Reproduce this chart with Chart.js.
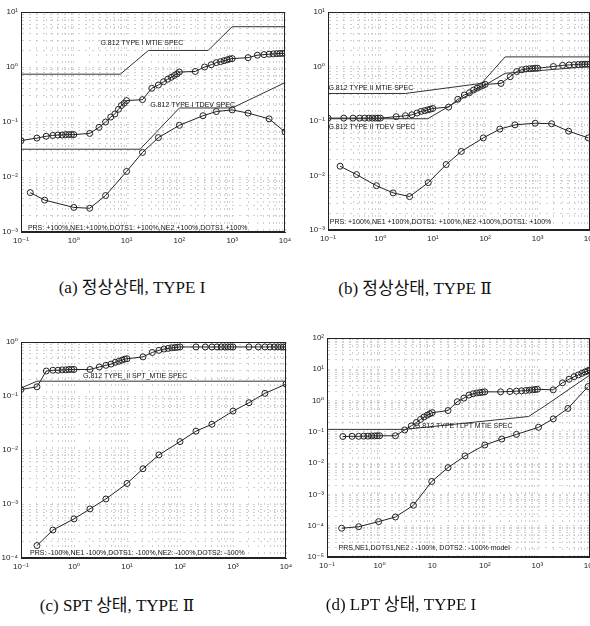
<!DOCTYPE html>
<html>
<head>
<meta charset="utf-8">
<script src="https://cdn.jsdelivr.net/npm/chart.js@4.4.1/dist/chart.umd.min.js"></script>
<style>
  html, body { margin: 0; padding: 0; background: #fff; overflow: hidden; width: 590px; height: 626px; }
  .panel { position: absolute; }
  .cap { position: absolute; font-family: "Liberation Serif", "Noto Sans CJK KR", serif; font-size: 17px; line-height: 20px; color: #111; white-space: nowrap; transform: translateX(-50%); }
  .rn { font-family: "DejaVu Serif", "DejaVu Sans", serif; }
</style>
</head>
<body>
<div class="panel" style="left:0px;top:0px;width:300px;height:250px"><canvas id="ca"></canvas></div>
<div class="panel" style="left:295px;top:0px;width:310px;height:248px"><canvas id="cb"></canvas></div>
<div class="panel" style="left:0px;top:330px;width:301px;height:246px"><canvas id="cc"></canvas></div>
<div class="panel" style="left:295px;top:326px;width:310px;height:249px"><canvas id="cd"></canvas></div>

<div class="cap" style="left:132px;top:278px">(a) 정상상태, TYPE I</div>
<div class="cap" style="left:415px;top:278px">(b) 정상상태, TYPE <span class="rn">Ⅱ</span></div>
<div class="cap" style="left:117px;top:595px">(c) SPT 상태, TYPE <span class="rn">Ⅱ</span></div>
<div class="cap" style="left:401px;top:595px">(d) LPT 상태, TYPE I</div>

<script>
// observation interval axis (s) and decade labels
const xDecades = [0.1, 1, 10, 100, 1000, 10000];
const xTickLabels = ['10⁻¹', '10⁰', '10¹', '10²', '10³', '10⁴'];
const xTickLabelsD = ['10⁻¹', '10⁰', '10', '10²', '10³', '10⁴'];
const yTickLabelsAB = ['10⁻³', '10⁻²', '10⁻¹', '10⁰', '10¹'];
const yTickLabelsC = ['10⁻⁴', '10⁻³', '10⁻²', '10⁻¹', '10⁰'];
const yTickLabelsD = ['10⁻⁵', '10⁻⁴', '10⁻³', '10⁻²', '10⁻¹', '10⁰', '10¹', '10²'];

// intervals used for the MTIE measurements (1..9 per decade)
const mtieX = [0.1, 0.2, 0.3, 0.4, 0.5, 0.6, 0.7, 0.8, 0.9,
  1, 2, 3, 4, 5, 6, 7, 8, 9,
  10, 20, 30, 40, 50, 60, 70, 80, 90,
  100, 200, 300, 400, 500, 600, 700, 800, 900,
  1000, 2000, 3000, 4000, 5000, 6000, 7000, 8000, 9000, 10000];

// (a) steady state, type I
const aMtieY = [0.046, 0.051, 0.055, 0.057, 0.058, 0.058, 0.059, 0.059, 0.059,
  0.059, 0.062, 0.08, 0.1, 0.123, 0.14, 0.17, 0.2, 0.22,
  0.245, 0.255, 0.41, 0.47, 0.54, 0.6, 0.65, 0.7, 0.75,
  0.81, 0.83, 1.0, 1.1, 1.2, 1.25, 1.3, 1.35, 1.4,
  1.42, 1.48, 1.64, 1.68, 1.71, 1.73, 1.75, 1.76, 1.77, 1.78];
const aTdevX = [0.15, 0.28, 1, 2, 4, 10, 20, 40, 100, 280, 500, 1000, 2000, 5000, 10000];
const aTdevY = [0.0052, 0.0038, 0.0028, 0.0027, 0.0046, 0.0126, 0.028, 0.052, 0.087, 0.13, 0.155, 0.166, 0.145, 0.114, 0.066];
const aMtieSpecX = [0.1, 7.6, 26, 350, 1000, 10000];
const aMtieSpecY = [0.74, 0.74, 2.0, 2.0, 5.4, 5.4];
const aTdevSpecX = [0.1, 18, 100, 1000, 10000];
const aTdevSpecY = [0.032, 0.032, 0.18, 0.18, 0.52];

// (b) steady state, type II
const bMtieY = [0.113, 0.113, 0.113, 0.113, 0.113, 0.113, 0.113, 0.113, 0.113,
  0.113, 0.12, 0.125, 0.13, 0.14, 0.15, 0.155, 0.16, 0.165,
  0.17, 0.18, 0.25, 0.3, 0.33, 0.37, 0.4, 0.43, 0.45,
  0.47, 0.49, 0.65, 0.81, 0.87, 0.9, 0.91, 0.92, 0.93,
  0.93, 1.0, 1.05, 1.07, 1.08, 1.09, 1.1, 1.1, 1.1, 1.1];
const bTdevX = [0.17, 0.35, 0.84, 1.75, 3.6, 8.2, 18, 35, 92, 190, 370, 900, 1850, 3900, 9300];
const bTdevY = [0.0148, 0.0104, 0.0065, 0.0048, 0.0041, 0.0074, 0.0159, 0.0277, 0.049, 0.071, 0.085, 0.091, 0.089, 0.065, 0.049];
const bMtieSpecX = [0.1, 3, 85, 240, 10000];
const bMtieSpecY = [0.32, 0.32, 0.49, 1.5, 1.5];
const bTdevSpecX = [0.1, 8, 240, 10000];
const bTdevSpecY = [0.11, 0.11, 0.75, 1.0];

// (c) SPT, type II
const cMtieY = [0.132, 0.148, 0.29, 0.3, 0.3, 0.305, 0.305, 0.31, 0.31,
  0.31, 0.31, 0.345, 0.37, 0.39, 0.42, 0.44, 0.46, 0.48,
  0.49, 0.53, 0.64, 0.7, 0.74, 0.76, 0.78, 0.79, 0.8,
  0.81, 0.81, 0.81, 0.81, 0.81, 0.81, 0.81, 0.81, 0.81,
  0.81, 0.81, 0.81, 0.81, 0.81, 0.81, 0.81, 0.81, 0.81, 0.81];
const cTdevX = [0.2, 0.4, 1, 2, 4, 10, 20, 40, 100, 200, 400, 1000, 2000, 4000, 10000];
const cTdevY = [0.00017, 0.00033, 0.00053, 0.00081, 0.00124, 0.0024, 0.0045, 0.0081, 0.0143, 0.0223, 0.030, 0.0525, 0.075, 0.112, 0.166];
const cSpecX = [0.1, 0.2, 10000];
const cSpecY = [0.14, 0.188, 0.188];

// (d) LPT, type I
const dMtieX = mtieX.slice(1);
const dMtieY = [0.071, 0.072, 0.072, 0.073, 0.073, 0.074, 0.074, 0.075,
  0.075, 0.075, 0.115, 0.155, 0.2, 0.25, 0.3, 0.34, 0.38,
  0.41, 0.48, 0.92, 1.2, 1.5, 1.65, 1.75, 1.8, 1.85,
  1.9, 1.9, 1.95, 2.0, 2.05, 2.1, 2.15, 2.2, 2.25,
  2.3, 2.2, 3.7, 4.8, 5.8, 6.6, 7.4, 8.2, 8.9, 9.5];
const dTdevX = [0.19, 0.4, 0.96, 2, 4.4, 9.8, 20, 42, 100, 210, 400, 1050, 2000, 3800, 9200];
const dTdevY = [0.000083, 0.000093, 0.000135, 0.00019, 0.00045, 0.0026, 0.0072, 0.017, 0.038, 0.059, 0.083, 0.14, 0.26, 0.56, 2.8];
const dSpecX = [0.1, 3, 160, 680, 1380, 10000];
const dSpecY = [0.12, 0.12, 0.24, 0.31, 0.67, 6.6];

const pts = (xs, ys) => xs.map((x, i) => ({ x: x, y: ys[i] }));

function spec(xs, ys) {
  return { data: pts(xs, ys), showLine: true, borderColor: '#333', borderWidth: 1, pointRadius: 0 };
}
function meas(xs, ys) {
  return { data: pts(xs, ys), showLine: true, borderColor: '#222', borderWidth: 1,
    pointRadius: 3, pointStyle: 'circle', pointBackgroundColor: 'rgba(0,0,0,0)',
    pointBorderColor: '#222', pointBorderWidth: 1 };
}

function logTicks(min, max) {
  const t = [];
  const e0 = Math.round(Math.log10(min)), e1 = Math.round(Math.log10(max));
  for (let e = e0; e < e1; e++) {
    for (let s = 1; s < 10; s++) t.push({ value: s * Math.pow(10, e) });
  }
  t.push({ value: max });
  return t;
}

// frame round the plot area + text notes in data coordinates
const boxAndNotes = {
  id: 'boxAndNotes',
  afterDraw(chart) {
    const ctx = chart.ctx, a = chart.chartArea;
    ctx.save();
    ctx.strokeStyle = '#222';
    ctx.lineWidth = 1;
    ctx.strokeRect(a.left + 0.5, a.top + 0.5, a.right - a.left - 1, a.bottom - a.top - 1);
    ctx.fillStyle = '#111';
    ctx.font = '7px "Liberation Sans", Arial, sans-serif';
    ctx.textBaseline = 'middle';
    (chart.options.plugins.boxAndNotes.notes || []).forEach(n => {
      const px = chart.scales.x.getPixelForValue(n.x);
      const py = chart.scales.y.getPixelForValue(n.y);
      ctx.fillText(n.text, px, py);
    });
    ctx.restore();
  }
};

function makePanel(id, o) {
  const tickFont = { family: '"Liberation Sans", "DejaVu Sans", Arial', size: 8 };
  const gridOpts = { color: '#c4c4c4', lineWidth: 0.8, drawTicks: false };
  const borderOpts = { display: true, color: '#222', width: 1, dash: [2, 5] };
  new Chart(document.getElementById(id), {
    type: 'scatter',
    data: { datasets: o.datasets },
    options: {
      responsive: true,
      maintainAspectRatio: false,
      animation: false,
      layout: { padding: { top: 12, right: 15, left: 0, bottom: 0 } },
      plugins: { legend: { display: false }, tooltip: { enabled: false }, boxAndNotes: { notes: o.notes } },
      scales: {
        x: {
          type: 'logarithmic', min: 0.1, max: 10000,
          afterBuildTicks: s => { s.ticks = logTicks(0.1, 10000); },
          afterFit: s => { s.height = 18; },
          grid: gridOpts, border: borderOpts,
          ticks: {
            autoSkip: false, maxRotation: 0, padding: 4, color: '#222', font: tickFont,
            callback: v => {
              const i = xDecades.indexOf(v);
              return i >= 0 ? o.xLabels[i] : '';
            }
          }
        },
        y: {
          type: 'logarithmic', min: o.yMin, max: o.yMax,
          afterBuildTicks: s => { s.ticks = logTicks(o.yMin, o.yMax); },
          afterFit: s => { s.width = o.yWidth; },
          grid: gridOpts, border: borderOpts,
          ticks: {
            autoSkip: false, padding: 3, color: '#222', font: tickFont,
            callback: v => {
              const l = Math.log10(v);
              if (Math.abs(l - Math.round(l)) > 1e-9) return '';
              return o.yLabels[Math.round(l) - Math.round(Math.log10(o.yMin))];
            }
          }
        }
      }
    },
    plugins: [boxAndNotes]
  });
}

makePanel('ca', {
  yMin: 0.001, yMax: 10, yWidth: 21, xLabels: xTickLabels, yLabels: yTickLabelsAB,
  datasets: [spec(aMtieSpecX, aMtieSpecY), spec(aTdevSpecX, aTdevSpecY), meas(mtieX, aMtieY), meas(aTdevX, aTdevY)],
  notes: [
    { x: 3.2, y: 2.7, text: 'G.812 TYPE I MTIE SPEC' },
    { x: 28, y: 0.2, text: 'G.812 TYPE I TDEV SPEC' },
    { x: 0.135, y: 0.0012, text: 'PRS: +100%,NE1:+100%,DOTS1: +100%,NE2 +100%,DOTS1 +100%' }
  ]
});

makePanel('cb', {
  yMin: 0.001, yMax: 10, yWidth: 33, xLabels: xTickLabels, yLabels: yTickLabelsAB,
  datasets: [spec(bMtieSpecX, bMtieSpecY), spec(bTdevSpecX, bTdevSpecY), meas(mtieX, bMtieY), meas(bTdevX, bTdevY)],
  notes: [
    { x: 0.102, y: 0.4, text: 'G.812 TYPE II MTIE SPEC' },
    { x: 0.102, y: 0.078, text: 'G.812 TYPE II TDEV SPEC' },
    { x: 0.108, y: 0.0014, text: 'PRS: +100%,NE1 +100%,DOTS1: +100%,NE2 +100%,DOTS1: +100%' }
  ]
});

makePanel('cc', {
  yMin: 0.0001, yMax: 1, yWidth: 21, xLabels: xTickLabels, yLabels: yTickLabelsC,
  datasets: [spec(cSpecX, cSpecY), meas(mtieX, cMtieY), meas(cTdevX, cTdevY)],
  notes: [
    { x: 1.48, y: 0.23, text: 'G.812 TYPE_II SPT_MTIE SPEC' },
    { x: 0.148, y: 0.000125, text: 'PRS: -100%,NE1 -100%,DOTS1: -100%,NE2: -100%,DOTS2: -100%' }
  ]
});

makePanel('cd', {
  yMin: 0.00001, yMax: 100, yWidth: 32, xLabels: xTickLabelsD, yLabels: yTickLabelsD,
  datasets: [spec(dSpecX, dSpecY), meas(dMtieX, dMtieY), meas(dTdevX, dTdevY)],
  notes: [
    { x: 4.7, y: 0.155, text: 'G.812 TYPE I LPT MTIE SPEC' },
    { x: 0.166, y: 0.0000195, text: 'PRS,NE1,DOTS1,NE2 : -100%, DOTS2 : -100% model' }
  ]
});
</script>
</body>
</html>
